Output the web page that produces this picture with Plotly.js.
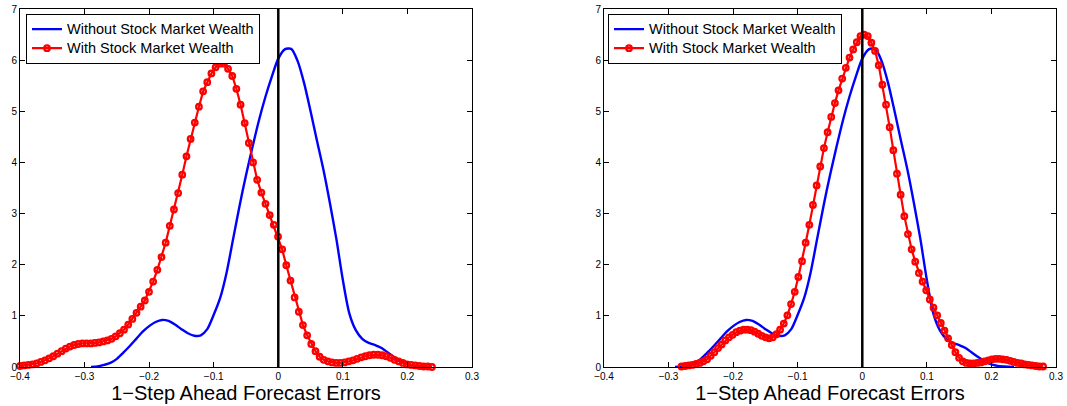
<!DOCTYPE html>
<html>
<head>
<meta charset="utf-8">
<script src="https://cdn.plot.ly/plotly-3.0.1.min.js"></script>
<style>html,body{margin:0;padding:0;background:#fff;}#chart{width:1067px;height:406px;}</style>
</head>
<body>
<div id="chart"></div>
<script>
// ---- Data ----
const seriesNames = ["Without Stock Market Wealth", "With Stock Market Wealth"];
const xTitle = "1\u2212Step Ahead Forecast Errors";
const xTickVals = [-0.4, -0.3, -0.2, -0.1, 0, 0.1, 0.2, 0.3];
const yTickVals = [0, 1, 2, 3, 4, 5, 6, 7];

// Blue density (same in both panels)
const blueX = [-0.29,-0.28,-0.27,-0.26,-0.25,-0.24,-0.23,-0.22,-0.21,-0.20,-0.19,-0.18,-0.17,-0.16,-0.15,-0.14,-0.13,-0.12,-0.11,-0.10,-0.09,-0.08,-0.07,-0.06,-0.05,-0.04,-0.03,-0.02,-0.01,0.00,0.01,0.02,0.03,0.04,0.05,0.06,0.07,0.08,0.09,0.10,0.11,0.12,0.13,0.14,0.15,0.16,0.17,0.18,0.19,0.20,0.21,0.22,0.235];
const blueY = [0.00,0.01,0.04,0.08,0.16,0.28,0.41,0.55,0.69,0.80,0.88,0.92,0.90,0.83,0.74,0.66,0.61,0.62,0.74,1.02,1.35,1.85,2.50,3.15,3.75,4.30,4.82,5.28,5.68,6.03,6.21,6.22,5.98,5.55,5.00,4.42,3.85,3.20,2.50,1.70,1.05,0.72,0.55,0.47,0.43,0.37,0.28,0.19,0.11,0.05,0.02,0.01,0.00];

// Red density, left panel
const redLeftX = [-0.4000,-0.3936,-0.3871,-0.3807,-0.3742,-0.3678,-0.3613,-0.3549,-0.3484,-0.3420,-0.3356,-0.3291,-0.3227,-0.3162,-0.3098,-0.3033,-0.2969,-0.2904,-0.2840,-0.2776,-0.2711,-0.2647,-0.2582,-0.2518,-0.2453,-0.2389,-0.2324,-0.2260,-0.2196,-0.2131,-0.2067,-0.2002,-0.1938,-0.1873,-0.1809,-0.1744,-0.1680,-0.1616,-0.1551,-0.1487,-0.1422,-0.1358,-0.1293,-0.1229,-0.1164,-0.1100,-0.1036,-0.0971,-0.0907,-0.0842,-0.0778,-0.0713,-0.0649,-0.0584,-0.0520,-0.0456,-0.0391,-0.0327,-0.0262,-0.0198,-0.0133,-0.0069,-0.0004,0.0060,0.0124,0.0189,0.0253,0.0318,0.0382,0.0447,0.0511,0.0576,0.0640,0.0704,0.0769,0.0833,0.0898,0.0962,0.1027,0.1091,0.1156,0.1220,0.1284,0.1349,0.1413,0.1478,0.1542,0.1607,0.1671,0.1736,0.1800,0.1864,0.1929,0.1993,0.2058,0.2122,0.2187,0.2251,0.2316,0.2380];
const redLeftY = [0.02,0.03,0.04,0.05,0.07,0.10,0.13,0.17,0.21,0.26,0.31,0.36,0.40,0.43,0.45,0.46,0.46,0.46,0.47,0.48,0.50,0.52,0.55,0.60,0.66,0.73,0.83,0.94,1.06,1.18,1.30,1.47,1.67,1.90,2.15,2.43,2.76,3.08,3.40,3.76,4.12,4.46,4.78,5.09,5.39,5.57,5.74,5.86,5.93,5.93,5.83,5.69,5.44,5.13,4.77,4.38,4.00,3.66,3.41,3.19,2.97,2.78,2.55,2.30,1.99,1.69,1.36,1.08,0.82,0.62,0.45,0.31,0.20,0.14,0.11,0.09,0.08,0.08,0.09,0.11,0.13,0.16,0.19,0.21,0.23,0.24,0.24,0.23,0.21,0.18,0.14,0.11,0.08,0.05,0.04,0.03,0.02,0.01,0.01,0.00];

// Red density, right panel
const redRightX = [-0.2800,-0.2743,-0.2687,-0.2630,-0.2574,-0.2517,-0.2461,-0.2404,-0.2347,-0.2291,-0.2234,-0.2178,-0.2121,-0.2065,-0.2008,-0.1952,-0.1895,-0.1838,-0.1782,-0.1725,-0.1669,-0.1612,-0.1556,-0.1499,-0.1442,-0.1386,-0.1329,-0.1273,-0.1216,-0.1160,-0.1103,-0.1046,-0.0990,-0.0933,-0.0877,-0.0820,-0.0764,-0.0707,-0.0651,-0.0594,-0.0537,-0.0481,-0.0424,-0.0368,-0.0311,-0.0255,-0.0198,-0.0141,-0.0085,-0.0028,0.0028,0.0085,0.0141,0.0198,0.0255,0.0311,0.0368,0.0424,0.0481,0.0537,0.0594,0.0651,0.0707,0.0764,0.0820,0.0877,0.0933,0.0990,0.1046,0.1103,0.1160,0.1216,0.1273,0.1329,0.1386,0.1442,0.1499,0.1556,0.1612,0.1669,0.1725,0.1782,0.1838,0.1895,0.1952,0.2008,0.2065,0.2121,0.2178,0.2234,0.2291,0.2347,0.2404,0.2461,0.2517,0.2574,0.2630,0.2687,0.2743,0.2800];
const redRightY = [0.01,0.02,0.03,0.04,0.06,0.08,0.11,0.15,0.22,0.29,0.37,0.44,0.52,0.58,0.63,0.68,0.71,0.73,0.73,0.72,0.69,0.65,0.61,0.58,0.56,0.58,0.64,0.73,0.85,1.01,1.23,1.47,1.76,2.07,2.43,2.78,3.17,3.55,3.92,4.28,4.59,4.89,5.16,5.41,5.64,5.85,6.05,6.21,6.35,6.47,6.50,6.47,6.34,6.18,5.90,5.52,5.13,4.69,4.24,3.78,3.37,2.95,2.60,2.30,2.06,1.84,1.67,1.50,1.32,1.16,1.01,0.86,0.71,0.56,0.43,0.29,0.18,0.11,0.08,0.07,0.07,0.08,0.09,0.11,0.13,0.15,0.16,0.16,0.15,0.14,0.12,0.10,0.08,0.07,0.05,0.04,0.03,0.02,0.01,0.01];

// ---- Styling ----
const FONT = "Liberation Sans, Arial, Helvetica, sans-serif";
const BLUE = "#0000ff", RED = "#ff0000";
const legendName = s => '<span style="font-size:14.5px">' + s + '</span>';

function blueTrace(xa, ya, lg) {
  return {x: blueX, y: blueY, xaxis: xa, yaxis: ya, legend: lg, type: "scatter", mode: "lines",
    name: legendName(seriesNames[0]), line: {color: BLUE, width: 2.4, shape: "spline", smoothing: 0.8}, cliponaxis: false, hoverinfo: "skip"};
}
function redTrace(xs, ys, xa, ya, lg) {
  return {x: xs, y: ys, xaxis: xa, yaxis: ya, legend: lg, type: "scatter", mode: "lines+markers",
    name: legendName(seriesNames[1]), line: {color: RED, width: 2.2},
    marker: {symbol: "circle-open", size: 5.5, color: RED, line: {color: RED, width: 2.3}}, cliponaxis: false, hoverinfo: "skip"};
}

const traces = [
  blueTrace("x", "y", "legend"),
  redTrace(redLeftX, redLeftY, "x", "y", "legend"),
  blueTrace("x2", "y2", "legend2"),
  redTrace(redRightX, redRightY, "x2", "y2", "legend2")
];

function xAxis(domain, anchor) {
  return {domain: domain, anchor: anchor, range: [-0.4, 0.3], tickvals: xTickVals, ticktext: xTickVals.map(v => v === 0 ? "0" : String(v).replace("-", "\u2212")),
    ticks: "inside", ticklen: 5, tickwidth: 1, tickcolor: "#000", showline: true, linecolor: "#000", linewidth: 1, mirror: "ticks",
    showgrid: false, zeroline: false, tickfont: {family: FONT, size: 10, color: "#000"},
    title: {text: xTitle, font: {family: FONT, size: 20, color: "#000"}, standoff: 4}};
}
function yAxis(anchor) {
  return {domain: [0, 1], anchor: anchor, range: [0, 7], tickvals: yTickVals,
    ticks: "inside", ticklen: 5, tickwidth: 1, tickcolor: "#000", showline: true, linecolor: "#000", linewidth: 1, mirror: "ticks",
    showgrid: false, zeroline: false, tickfont: {family: FONT, size: 10, color: "#000"}};
}
function legendBox(x) {
  return {x: x, y: 0.987, xanchor: "left", yanchor: "top", bgcolor: "#fff", bordercolor: "#000", borderwidth: 1,
    font: {family: FONT, size: 11.5, color: "#000"}, itemwidth: 30, tracegroupgap: 0};
}

const W = 1067, ml = 20, mr = 11;
const pw = W - ml - mr;
const layout = {
  width: 1067, height: 406,
  margin: {l: ml, r: mr, t: 9, b: 39, pad: 0},
  paper_bgcolor: "#fff", plot_bgcolor: "#fff",
  showlegend: true,
  xaxis: xAxis([0, 452 / pw], "y"),
  yaxis: yAxis("x"),
  xaxis2: xAxis([584 / pw, 1], "y2"),
  yaxis2: yAxis("x2"),
  legend: legendBox(6 / pw),
  legend2: legendBox(588 / pw),
  shapes: [
    {type: "line", xref: "x", yref: "y", x0: 0, x1: 0, y0: 0, y1: 7, line: {color: "#000", width: 2.5}},
    {type: "line", xref: "x2", yref: "y2", x0: 0, x1: 0, y0: 0, y1: 7, line: {color: "#000", width: 2.5}}
  ]
};

Plotly.newPlot("chart", traces, layout, {displayModeBar: false, staticPlot: true});
</script>
</body>
</html>
